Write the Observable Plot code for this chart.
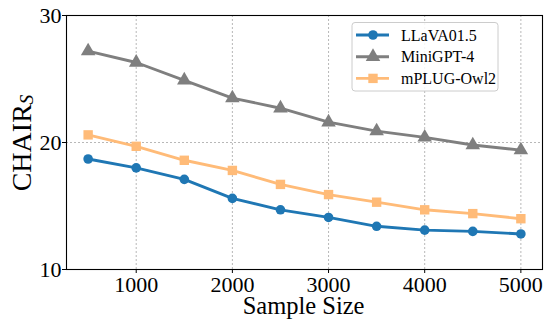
<!DOCTYPE html>
<html>
<head>
<meta charset="utf-8">
<script src="https://cdn.jsdelivr.net/npm/d3@7"></script>
<script src="https://cdn.jsdelivr.net/npm/@observablehq/plot@0.6"></script>
<style>
  html, body { margin: 0; padding: 0; background: white; }
  #chart { position: relative; width: 544px; height: 323px; }
  #chart svg text { font-family: "Liberation Serif", "DejaVu Serif", serif; }
</style>
</head>
<body>
<div id="chart"></div>
<script>
const sampleSizes = [500, 1000, 1500, 2000, 2500, 3000, 3500, 4000, 4500, 5000];
const llava   = [18.7, 18.0, 17.1, 15.6, 14.7, 14.1, 13.4, 13.1, 13.0, 12.8];
const minigpt = [27.2, 26.3, 24.9, 23.5, 22.7, 21.6, 20.9, 20.4, 19.8, 19.4];
const mplug   = [20.6, 19.7, 18.6, 17.8, 16.7, 15.9, 15.3, 14.7, 14.4, 14.0];
const seriesNames = ["LLaVA01.5", "MiniGPT-4", "mPLUG-Owl2"];
const xTicks = [1000, 2000, 3000, 4000, 5000];
const yTicks = [10, 20, 30];

const FONT = "'Liberation Serif', 'DejaVu Serif', serif";
const colors = ["#1f77b4", "#7f7f7f", "#ffbb78"];
const symbols = ["circle", "triangle", "square"];
const radii = [4.8, 5.4, 5.3];
const values = [llava, minigpt, mplug];

const series = seriesNames.map((name, i) =>
  sampleSizes.map((x, j) => ({ series: name, x, y: values[i][j] }))
);

const marks = [
  Plot.gridX(xTicks, { stroke: "#b0b0b0", strokeOpacity: 1, strokeDasharray: "2,2", strokeWidth: 0.9 }),
  Plot.gridY([20], { stroke: "#b0b0b0", strokeOpacity: 1, strokeDasharray: "2,2", strokeWidth: 0.9 }),
];
series.forEach((data, i) => {
  marks.push(Plot.line(data, { x: "x", y: "y", stroke: colors[i], strokeWidth: 2.9 }));
  marks.push(Plot.dot(data, { x: "x", y: "y", fill: colors[i], stroke: "none", symbol: symbols[i], r: radii[i] }));
});
marks.push(Plot.frame({ stroke: "black", strokeWidth: 1.1 }));
marks.push(Plot.axisX(xTicks, { tickSize: 4, tickPadding: 3, fontSize: 22, fontFamily: FONT, label: null, tickFormat: d => String(d) }));
marks.push(Plot.axisY(yTicks, { tickSize: 4, tickPadding: 1, fontSize: 22, fontFamily: FONT, label: null, tickFormat: d => String(d) }));

const svg = Plot.plot({
  width: 544,
  height: 323,
  marginLeft: 66,
  marginRight: 2,
  marginTop: 15,
  marginBottom: 54,
  x: { domain: [275, 5225] },
  y: { domain: [10, 30] },
  style: { fontFamily: FONT, fontSize: "22px", background: "white", color: "black" },
  marks
});

const s = d3.select(svg);

// Axis labels
s.append("text")
  .attr("x", 303.6).attr("y", 314)
  .attr("text-anchor", "middle")
  .attr("font-family", FONT)
  .style("font-family", FONT)
  .style("font-size", "24.5px")
  .attr("fill", "black")
  .text("Sample Size");

const yl = s.append("text")
  .attr("transform", "translate(31,143) rotate(-90)")
  .attr("text-anchor", "middle")
  .style("font-family", FONT)
  .style("font-size", "28px")
  .attr("fill", "black");
yl.append("tspan").text("CHAIR");
yl.append("tspan").style("font-style", "italic").style("font-size", "19px").attr("dy", 2).text("S");

// Legend
const lg = s.append("g").attr("transform", "translate(352,22.5)");
lg.append("rect")
  .attr("width", 146).attr("height", 68.5)
  .attr("rx", 3).attr("ry", 3)
  .attr("fill", "white").attr("fill-opacity", 0.85)
  .attr("stroke", "#cccccc").attr("stroke-width", 1);
const symGen = d3.symbol();
const d3syms = [d3.symbolCircle, d3.symbolTriangle, d3.symbolSquare];
seriesNames.forEach((name, i) => {
  const yy = 12.5 + i * 21.7;
  lg.append("line")
    .attr("x1", 4).attr("x2", 37).attr("y1", yy).attr("y2", yy)
    .attr("stroke", colors[i]).attr("stroke-width", 2.9);
  lg.append("path")
    .attr("transform", `translate(21,${yy})`)
    .attr("d", symGen.type(d3syms[i]).size(Math.PI * radii[i] * radii[i])())
    .attr("fill", colors[i]);
  lg.append("text")
    .attr("x", 49).attr("y", yy + 5.5)
    .attr("text-anchor", "start")
    .style("font-family", FONT)
    .style("font-size", "16px")
    .attr("fill", "black")
    .text(name);
});

document.getElementById("chart").appendChild(svg);
</script>
</body>
</html>
